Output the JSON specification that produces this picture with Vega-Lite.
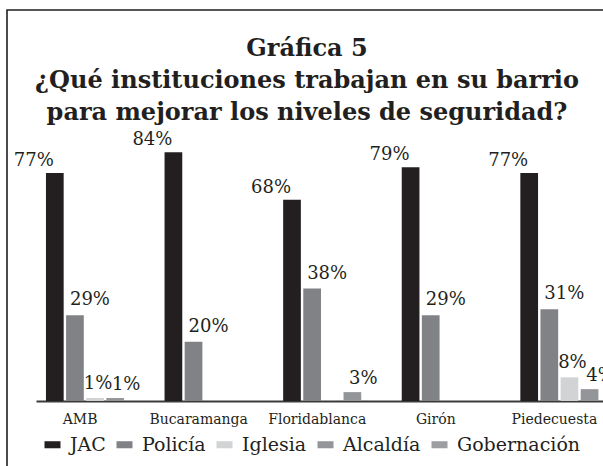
{
  "$schema": "https://vega.github.io/schema/vega-lite/v6.json",
  "width": 600,
  "height": 460,
  "autosize": {"type": "none"},
  "padding": {"left": 7, "top": 10, "right": -4, "bottom": -4},
  "background": "white",
  "title": {
    "text": ["Gráfica 5", "¿Qué instituciones trabajan en su barrio", "para mejorar los niveles de seguridad?"],
    "orient": "top",
    "anchor": "middle",
    "frame": "group",
    "offset": -115,
    "dx": 0,
    "font": "DejaVu Serif",
    "fontSize": 24,
    "fontWeight": "bold",
    "lineHeight": 32,
    "color": "#231f20"
  },
  "config": {
    "view": {"stroke": "#231f20", "strokeWidth": 1.6},
    "legend": {
      "orient": "none",
      "legendX": 36,
      "legendY": 425,
      "direction": "horizontal",
      "padding": 0,
      "symbolType": "M-1,-0.44H1V0.44H-1Z",
      "symbolSize": 256,
      "symbolStrokeWidth": 0,
      "labelFont": "DejaVu Serif",
      "labelFontSize": 19,
      "labelColor": "#231f20",
      "labelOffset": 8,
      "columnPadding": 9
    }
  },
  "data": {
    "values": [
      {"municipio": "AMB", "institucion": "JAC", "value": 0.77},
      {"municipio": "AMB", "institucion": "Policía", "value": 0.29},
      {"municipio": "AMB", "institucion": "Iglesia", "value": 0.01},
      {"municipio": "AMB", "institucion": "Alcaldía", "value": 0.01},
      {"municipio": "AMB", "institucion": "Gobernación", "value": 0},
      {"municipio": "Bucaramanga", "institucion": "JAC", "value": 0.84},
      {"municipio": "Bucaramanga", "institucion": "Policía", "value": 0.20},
      {"municipio": "Bucaramanga", "institucion": "Iglesia", "value": 0},
      {"municipio": "Bucaramanga", "institucion": "Alcaldía", "value": 0},
      {"municipio": "Bucaramanga", "institucion": "Gobernación", "value": 0},
      {"municipio": "Floridablanca", "institucion": "JAC", "value": 0.68},
      {"municipio": "Floridablanca", "institucion": "Policía", "value": 0.38},
      {"municipio": "Floridablanca", "institucion": "Iglesia", "value": 0},
      {"municipio": "Floridablanca", "institucion": "Alcaldía", "value": 0.03},
      {"municipio": "Floridablanca", "institucion": "Gobernación", "value": 0},
      {"municipio": "Girón", "institucion": "JAC", "value": 0.79},
      {"municipio": "Girón", "institucion": "Policía", "value": 0.29},
      {"municipio": "Girón", "institucion": "Iglesia", "value": 0},
      {"municipio": "Girón", "institucion": "Alcaldía", "value": 0},
      {"municipio": "Girón", "institucion": "Gobernación", "value": 0},
      {"municipio": "Piedecuesta", "institucion": "JAC", "value": 0.77},
      {"municipio": "Piedecuesta", "institucion": "Policía", "value": 0.31},
      {"municipio": "Piedecuesta", "institucion": "Iglesia", "value": 0.08},
      {"municipio": "Piedecuesta", "institucion": "Alcaldía", "value": 0.04},
      {"municipio": "Piedecuesta", "institucion": "Gobernación", "value": 0}
    ]
  },
  "encoding": {
    "x": {
      "field": "municipio",
      "type": "nominal",
      "sort": ["AMB", "Bucaramanga", "Floridablanca", "Girón", "Piedecuesta"],
      "scale": {"range": [29, 621.5], "paddingInner": 0.172, "paddingOuter": 0.084},
      "axis": {
        "title": null,
        "offset": -69,
        "domainColor": "#3a3a3a",
        "domainWidth": 2,
        "ticks": false,
        "grid": false,
        "labelAngle": 0,
        "labelFont": "DejaVu Serif",
        "labelFontSize": 14,
        "labelColor": "#231f20",
        "labelPadding": 11,
        "labelOffset": -15
      }
    },
    "xOffset": {
      "field": "institucion",
      "type": "nominal",
      "sort": ["JAC", "Policía", "Iglesia", "Alcaldía", "Gobernación"],
      "scale": {"paddingInner": 0.12, "paddingOuter": 0}
    },
    "y": {
      "field": "value",
      "type": "quantitative",
      "scale": {"domain": [0, 1.321], "range": [391, 0], "nice": false, "zero": true},
      "axis": null
    }
  },
  "layer": [
    {
      "mark": {"type": "bar"},
      "encoding": {
        "color": {
          "field": "institucion",
          "type": "nominal",
          "sort": ["JAC", "Policía", "Iglesia", "Alcaldía", "Gobernación"],
          "scale": {
            "domain": ["JAC", "Policía", "Iglesia", "Alcaldía", "Gobernación"],
            "range": ["#231f20", "#808285", "#d1d3d4", "#939598", "#9b9da0"]
          },
          "legend": {"title": null}
        }
      }
    },
    {
      "transform": [{"filter": "datum.institucion == 'JAC'"}],
      "mark": {"type": "text", "dx": -21, "dy": -7, "baseline": "alphabetic", "align": "center", "font": "DejaVu Serif", "fontSize": 18, "color": "#231f20"},
      "encoding": {"text": {"field": "value", "type": "quantitative", "format": ".0%"}}
    },
    {
      "transform": [{"filter": "datum.institucion == 'Policía'"}],
      "mark": {"type": "text", "dx": 15, "dy": -10, "baseline": "alphabetic", "align": "center", "font": "DejaVu Serif", "fontSize": 18, "color": "#231f20"},
      "encoding": {"text": {"field": "value", "type": "quantitative", "format": ".0%"}}
    },
    {
      "transform": [{"filter": "datum.value > 0 && datum.institucion == 'Iglesia'"}],
      "mark": {"type": "text", "dx": 3, "dy": -9, "baseline": "alphabetic", "align": "center", "font": "DejaVu Serif", "fontSize": 18, "color": "#231f20"},
      "encoding": {"text": {"field": "value", "type": "quantitative", "format": ".0%"}}
    },
    {
      "transform": [{"filter": "datum.value > 0 && datum.institucion == 'Alcaldía'"}],
      "mark": {"type": "text", "dx": 11, "dy": -8, "baseline": "alphabetic", "align": "center", "font": "DejaVu Serif", "fontSize": 18, "color": "#231f20"},
      "encoding": {"text": {"field": "value", "type": "quantitative", "format": ".0%"}}
    }
  ]
}
